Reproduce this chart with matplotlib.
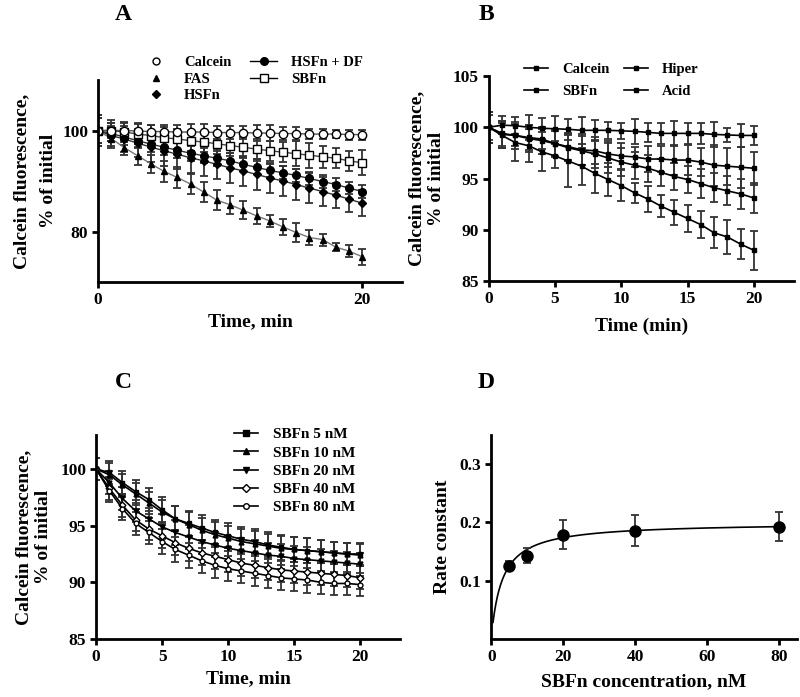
import numpy as np
import matplotlib
matplotlib.use('Agg')
import matplotlib.pyplot as plt
from matplotlib.lines import Line2D

# ---- panel A data (time 0..20 min) ----
time_a = list(range(21))
calcein_a = [100, 100, 100, 99.9, 99.8, 99.8, 99.7, 99.7, 99.7, 99.6, 99.6, 99.6, 99.5, 99.5, 99.4, 99.4, 99.3, 99.3, 99.3, 99.2, 99.2]
calcein_a_err = [3, 1.5, 1.5, 1.5, 1.3, 1.3, 1.3, 1.5, 1.5, 1.3, 1.3, 1.3, 1.5, 1.5, 1.3, 1.3, 1.0, 1.0, 0.8, 1.0, 1.0]
fas_a = [100, 98.4, 96.6, 95.0, 93.4, 91.9, 90.7, 89.4, 87.8, 86.2, 85.3, 84.2, 83.1, 82.1, 80.9, 79.8, 78.8, 78.4, 76.9, 76.1, 75.0]
fas_a_err = [2.5, 1.5, 1.5, 1.8, 1.8, 2.0, 2.0, 2.0, 2.0, 2.0, 1.8, 1.8, 1.6, 1.2, 1.6, 1.8, 1.4, 1.2, 0.8, 1.2, 1.6]
hsfn_a = [100, 99.0, 98.3, 97.5, 96.7, 96.0, 95.3, 94.6, 94.0, 93.3, 92.6, 92.0, 91.3, 90.6, 90.0, 89.3, 88.6, 87.9, 87.2, 86.4, 85.6]
hsfn_a_err = [3, 2.5, 2.5, 2.8, 3.0, 3.0, 3.0, 3.0, 3.0, 3.0, 3.0, 3.0, 3.0, 3.0, 3.0, 3.0, 3.0, 2.8, 2.5, 2.5, 2.6]
hsfn_df_a = [100, 99.4, 98.7, 98.0, 97.3, 96.7, 96.1, 95.5, 95.0, 94.5, 94.0, 93.3, 92.7, 92.1, 91.6, 91.1, 90.5, 89.9, 89.3, 88.6, 87.9]
hsfn_df_a_err = [2.5, 1.5, 1.5, 1.5, 1.5, 1.5, 1.5, 1.5, 1.5, 1.5, 1.5, 1.3, 1.3, 1.3, 1.3, 1.3, 1.3, 1.2, 1.2, 1.2, 1.3]
sbfn_a = [100, 100, 99.7, 99.3, 99.0, 98.6, 98.3, 98.0, 97.7, 97.4, 97.0, 96.7, 96.3, 96.0, 95.7, 95.4, 95.1, 94.8, 94.5, 94.0, 93.6]
sbfn_a_err = [2.5, 2.0, 2.0, 2.0, 2.0, 2.0, 2.0, 2.0, 2.0, 2.0, 2.0, 2.0, 2.0, 2.0, 2.0, 2.5, 2.5, 2.2, 2.0, 2.0, 2.5]

# ---- panel B data ----
time_b = list(range(21))
calcein_b = [100, 100.2, 100.15, 100.0, 99.9, 99.85, 99.8, 99.7, 99.7, 99.7, 99.65, 99.6, 99.5, 99.4, 99.4, 99.4, 99.4, 99.3, 99.25, 99.2, 99.2]
calcein_b_err = [1.2, 0.9, 0.8, 1.2, 1.0, 1.2, 1.0, 1.3, 1.0, 0.8, 0.8, 1.2, 0.9, 1.0, 1.2, 1.0, 1.0, 1.2, 0.7, 1.1, 0.9]
sbfn_b = [100, 99.4, 99.2, 99.0, 98.85, 98.4, 98.1, 97.8, 97.7, 97.4, 97.2, 97.1, 96.9, 96.9, 96.8, 96.8, 96.6, 96.3, 96.2, 96.1, 96.0]
sbfn_b_err = [1.5, 1.2, 1.0, 1.2, 1.0, 1.2, 1.3, 1.5, 1.3, 1.3, 1.3, 1.0, 1.3, 1.3, 1.5, 1.5, 1.4, 2.0, 1.8, 2.0, 1.6]
hiper_b = [100, 99.3, 99.2, 98.9, 98.7, 98.4, 98.0, 97.7, 97.4, 97.0, 96.6, 96.3, 96.0, 95.6, 95.2, 94.9, 94.5, 94.1, 93.8, 93.5, 93.1]
hiper_b_err = [1.5, 1.3, 1.3, 1.3, 1.3, 1.3, 1.3, 1.4, 1.4, 1.5, 1.4, 1.3, 1.3, 1.3, 1.3, 1.3, 1.4, 1.4, 1.4, 1.5, 1.5]
acid_b = [100, 99.2, 98.5, 98.2, 97.6, 97.2, 96.7, 96.2, 95.5, 94.9, 94.3, 93.6, 93.0, 92.3, 91.7, 91.1, 90.5, 89.7, 89.3, 88.6, 88.0]
acid_b_err = [1.5, 1.2, 1.8, 1.6, 1.9, 1.2, 2.5, 1.8, 1.9, 1.6, 1.5, 1.0, 1.3, 1.1, 1.2, 1.3, 1.3, 1.5, 1.7, 1.5, 1.9]

# ---- panel C data ----
time_c = list(range(21))
sbfn5 = [100, 99.7, 98.8, 98.0, 97.3, 96.4, 95.6, 95.2, 94.8, 94.4, 94.1, 93.8, 93.6, 93.3, 93.1, 92.9, 92.8, 92.7, 92.6, 92.5, 92.5]
sbfn10 = [100, 99.5, 98.6, 97.8, 97.0, 96.2, 95.6, 95.1, 94.6, 94.2, 93.9, 93.6, 93.4, 93.2, 93.0, 92.9, 92.8, 92.7, 92.6, 92.5, 92.4]
sbfn20 = [100, 98.8, 97.4, 96.3, 95.6, 94.9, 94.4, 94.0, 93.6, 93.3, 93.0, 92.8, 92.6, 92.4, 92.3, 92.1, 92.0, 91.9, 91.8, 91.7, 91.6]
sbfn40 = [100, 98.3, 96.8, 95.5, 94.7, 94.1, 93.5, 93.0, 92.6, 92.3, 92.0, 91.7, 91.5, 91.3, 91.1, 91.0, 90.9, 90.8, 90.7, 90.6, 90.4]
sbfn80 = [100, 98.1, 96.5, 95.2, 94.4, 93.6, 92.9, 92.4, 91.9, 91.5, 91.2, 91.0, 90.8, 90.6, 90.4, 90.3, 90.2, 90.0, 89.9, 89.9, 89.8]
sbfn_c_err = [1.0, 1.0, 1.0, 1.0, 1.0, 1.1, 1.1, 1.1, 1.1, 1.1, 1.1, 1.1, 1.1, 1.1, 1.1, 1.1, 1.1, 1.0, 1.0, 1.0, 1.0]

# ---- panel D data ----
conc_d = [5, 10, 20, 40, 80]
rate_d = [0.126, 0.143, 0.179, 0.186, 0.193]
rate_d_err = [0.007, 0.013, 0.025, 0.026, 0.025]
vmax_fit = 0.200
kd_fit = 3.0

plt.rcParams['font.family'] = ['Liberation Serif', 'DejaVu Serif']
plt.rcParams['font.weight'] = 'bold'
plt.rcParams['axes.labelweight'] = 'bold'
plt.rcParams['axes.linewidth'] = 2
plt.rcParams['xtick.major.width'] = 2
plt.rcParams['ytick.major.width'] = 2
plt.rcParams['xtick.major.size'] = 4
plt.rcParams['ytick.major.size'] = 4
plt.rcParams['xtick.labelsize'] = 12.5
plt.rcParams['ytick.labelsize'] = 12.5

fig = plt.figure(figsize=(8, 6.97), dpi=100)

def style(ax):
    ax.spines['top'].set_visible(False)
    ax.spines['right'].set_visible(False)
    ax.tick_params(direction='out', pad=3)

ekw = dict(ecolor='#333333', elinewidth=1.3, capsize=3, capthick=1.3)
ylab = 'Calcein fluorescence,\n% of initial'

# ---------------- A ----------------
axA = fig.add_axes([0.1225, 0.5954, 0.38, 0.2898])
style(axA)
axA.errorbar(time_a, fas_a, yerr=fas_a_err, color='#777777', lw=1, marker='^', ms=4.5, mfc='black', mec='black', **ekw)
axA.errorbar(time_a, hsfn_a, yerr=hsfn_a_err, color='#333333', lw=1, marker='D', ms=4.5, mfc='black', mec='black', **ekw)
axA.errorbar(time_a, hsfn_df_a, yerr=hsfn_df_a_err, color='#333333', lw=1, marker='o', ms=5.5, mfc='black', mec='black', **ekw)
axA.errorbar(time_a, sbfn_a, yerr=sbfn_a_err, color='#444444', lw=1, marker='s', ms=5.5, mfc='white', mec='black', **ekw)
axA.errorbar(time_a, calcein_a, yerr=calcein_a_err, color='#555555', lw=1, marker='o', ms=6, mfc='white', mec='black', **ekw)
axA.set_xlim(0, 23)
axA.set_ylim(70, 110)
axA.set_xticks([0, 20])
axA.set_yticks([80, 100])
axA.set_xlabel('Time, min', fontsize=14, labelpad=4)
axA.set_ylabel(ylab, fontsize=14, labelpad=4, linespacing=1.7)
hA = [Line2D([], [], ls='none', marker='o', ms=5, mfc='white', mec='black'),
      Line2D([], [], ls='none', marker='^', ms=5, color='black'),
      Line2D([], [], ls='none', marker='D', ms=4.5, color='black'),
      Line2D([], [], color='black', lw=1, marker='o', ms=5.5),
      Line2D([], [], color='black', lw=1, marker='s', ms=5.5, mfc='white', mec='black')]
axA.legend(hA, ['Calcein', 'FAS', 'HSFn', 'HSFn + DF', 'SBFn'], ncol=2, frameon=False,
           fontsize=10.5, loc='upper left', bbox_to_anchor=(136 / 800, 1 - 49 / 697),
           bbox_transform=fig.transFigure, borderpad=0, handlelength=1.8,
           handletextpad=1.0, columnspacing=1.3, labelspacing=0.2)

# ---------------- B ----------------
axB = fig.add_axes([0.611, 0.5968, 0.381, 0.2942])
style(axB)
for vals, errs in [(calcein_b, calcein_b_err), (sbfn_b, sbfn_b_err), (hiper_b, hiper_b_err), (acid_b, acid_b_err)]:
    axB.errorbar(time_b, vals, yerr=errs, color='black', lw=1.2, marker='s', ms=3.5, **ekw)
axB.set_xlim(0, 23)
axB.set_ylim(85, 105)
axB.set_xticks([0, 5, 10, 15, 20])
axB.set_yticks([85, 90, 95, 100, 105])
axB.set_xlabel('Time (min)', fontsize=14, labelpad=8)
axB.set_ylabel(ylab, fontsize=14, labelpad=6, linespacing=1.2)
hB = [Line2D([], [], color='black', lw=1.2, marker='s', ms=3.5) for _ in range(4)]
axB.legend(hB, ['Calcein', 'SBFn', 'Hiper', 'Acid'], ncol=2, frameon=False,
           fontsize=10.5, loc='upper left', bbox_to_anchor=(517 / 800, 1 - 56 / 697),
           bbox_transform=fig.transFigure, borderpad=0, handlelength=1.6,
           handletextpad=1.0, columnspacing=1.0, labelspacing=0.6)

# ---------------- C ----------------
axC = fig.add_axes([0.12, 0.0832, 0.38, 0.2927])
style(axC)
c_series = [(sbfn5, 's', 'black'), (sbfn10, '^', 'black'), (sbfn20, 'v', 'black'),
            (sbfn40, 'D', 'white'), (sbfn80, 'o', 'white')]
for vals, mk, fc in c_series:
    axC.errorbar(time_c, vals, yerr=sbfn_c_err, color='black', lw=1.2, marker=mk, ms=3.5,
                 mfc=fc, mec='black', **ekw)
axC.set_xlim(0, 23)
axC.set_ylim(85, 103)
axC.set_xticks([0, 5, 10, 15, 20])
axC.set_yticks([85, 90, 95, 100])
axC.set_xlabel('Time, min', fontsize=14, labelpad=4)
axC.set_ylabel(ylab, fontsize=14, labelpad=6, linespacing=1.2)
hC = [Line2D([], [], color='black', lw=1.2, marker=mk, ms=4, mfc=fc, mec='black') for _, mk, fc in c_series]
axC.legend(hC, ['SBFn 5 nM', 'SBFn 10 nM', 'SBFn 20 nM', 'SBFn 40 nM', 'SBFn 80 nM'],
           frameon=False, fontsize=11, loc='upper left',
           bbox_to_anchor=(226 / 800, 1 - 420 / 697), bbox_transform=fig.transFigure,
           borderpad=0, handlelength=1.6, handletextpad=1.0, labelspacing=0.3)

# ---------------- D ----------------
axD = fig.add_axes([0.614, 0.0832, 0.382, 0.2927])
style(axD)
xfit = np.linspace(0.5, 80, 400)
axD.plot(xfit, vmax_fit * xfit / (kd_fit + xfit), color='black', lw=1.2)
axD.errorbar(conc_d, rate_d, yerr=rate_d_err, ls='none', marker='o', ms=8, color='black', **ekw)
axD.set_xlim(0, 85)
axD.set_ylim(0, 0.35)
axD.set_xticks([0, 20, 40, 60, 80])
axD.set_yticks([0.1, 0.2, 0.3])
axD.set_xlabel('SBFn concentration, nM', fontsize=14, labelpad=6)
axD.set_ylabel('Rate constant', fontsize=14, labelpad=6)

for lbl, x, y in [('A', 123, 15), ('B', 486, 15), ('C', 123, 383), ('D', 486, 383)]:
    fig.text(x / 800, 1 - y / 697, lbl, fontsize=17, fontweight='bold', ha='center', va='center')

fig.savefig('out.png', dpi=100)
